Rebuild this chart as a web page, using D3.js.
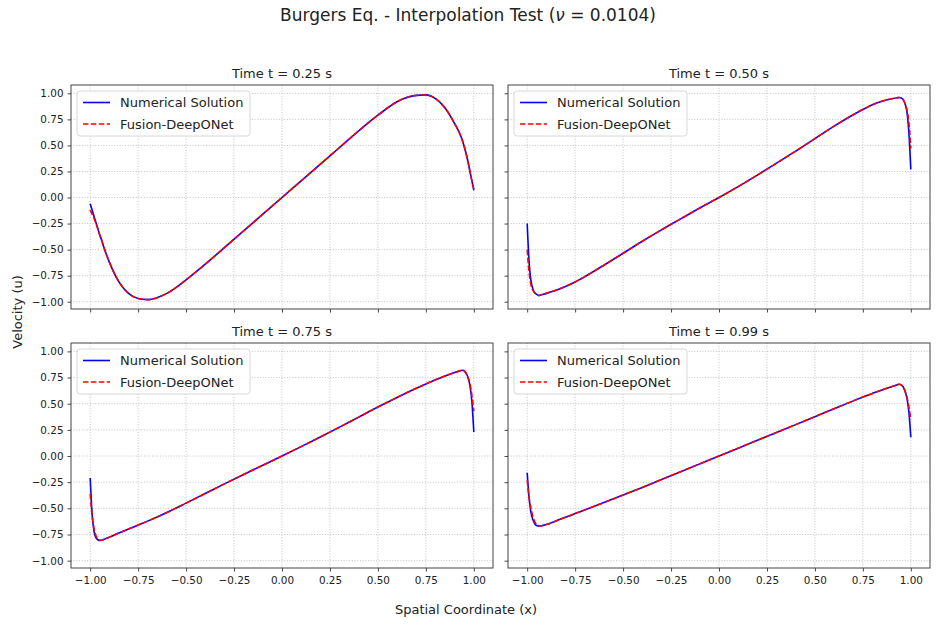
<!DOCTYPE html>
<meta charset="utf-8">
<style>
  body { margin: 0; background: #fff; }
  svg text { font-family: "DejaVu Sans", sans-serif; fill: #222; }
  .grid line { stroke: #b4b4b4; stroke-width: 0.8; stroke-dasharray: 1,1.7; }
  .axis path { display: none; }
  .axis line { stroke: #333; stroke-width: 0.9; }
  .frame { fill: none; stroke: #444; stroke-width: 1; }
</style>
<script src="https://d3js.org/d3.v7.min.js"></script>
<div id="my_dataviz"></div>
<script>

// sample positions along x (denser near the boundary layers)
var xs = [-1, -0.99, -0.98, -0.97, -0.96, -0.95, -0.94, -0.93, -0.9, -0.85, -0.8, -0.75, -0.7,
          -0.6, -0.5, -0.4, -0.3, -0.2, -0.1, 0, 0.1, 0.2, 0.3, 0.4, 0.5, 0.6, 0.7,
          0.75, 0.8, 0.85, 0.9, 0.93, 0.94, 0.95, 0.96, 0.97, 0.98, 0.99, 1];

var times = ["0.25", "0.50", "0.75", "0.99"];

// t = 0.25
var num025 = [-0.06, -0.12, -0.18, -0.24, -0.30, -0.36, -0.41, -0.47, -0.62, -0.81, -0.92, -0.97, -0.98,
              -0.92, -0.79, -0.64, -0.48, -0.32, -0.16, 0, 0.16, 0.32, 0.48, 0.64, 0.79, 0.92, 0.98,
              0.985, 0.95, 0.86, 0.71, 0.60, 0.55, 0.49, 0.42, 0.34, 0.25, 0.16, 0.07];
var fus025 = [-0.12, -0.16, -0.20, -0.25, -0.30, -0.36, -0.41, -0.47, -0.62, -0.81, -0.92, -0.97, -0.98,
              -0.92, -0.79, -0.64, -0.48, -0.32, -0.16, 0, 0.16, 0.32, 0.48, 0.64, 0.79, 0.92, 0.98,
              0.985, 0.95, 0.86, 0.71, 0.60, 0.55, 0.49, 0.42, 0.34, 0.25, 0.16, 0.08];

// t = 0.50
var num050 = [-0.25, -0.62, -0.80, -0.88, -0.915, -0.93, -0.94, -0.935, -0.92, -0.89, -0.853, -0.81, -0.76,
              -0.65, -0.535, -0.42, -0.31, -0.205, -0.10, 0, 0.105, 0.215, 0.33, 0.445, 0.565, 0.685, 0.795,
              0.845, 0.89, 0.925, 0.948, 0.958, 0.96, 0.955, 0.94, 0.90, 0.82, 0.62, 0.27];
var fus050 = [-0.50, -0.72, -0.84, -0.89, -0.915, -0.93, -0.94, -0.935, -0.92, -0.89, -0.853, -0.81, -0.76,
              -0.65, -0.535, -0.42, -0.31, -0.205, -0.10, 0, 0.105, 0.215, 0.33, 0.445, 0.565, 0.685, 0.795,
              0.845, 0.89, 0.925, 0.948, 0.958, 0.96, 0.955, 0.94, 0.90, 0.84, 0.72, 0.47];

// t = 0.75
var num075 = [-0.21, -0.55, -0.72, -0.78, -0.80, -0.807, -0.805, -0.798, -0.775, -0.735, -0.698, -0.66, -0.622,
              -0.54, -0.45, -0.358, -0.266, -0.176, -0.088, 0, 0.09, 0.182, 0.276, 0.372, 0.468, 0.56, 0.647,
              0.688, 0.728, 0.765, 0.797, 0.815, 0.82, 0.815, 0.79, 0.75, 0.67, 0.52, 0.23];
var fus075 = [-0.36, -0.57, -0.69, -0.76, -0.79, -0.803, -0.805, -0.798, -0.775, -0.735, -0.698, -0.66, -0.622,
              -0.54, -0.45, -0.358, -0.266, -0.176, -0.088, 0, 0.09, 0.182, 0.276, 0.372, 0.468, 0.56, 0.647,
              0.688, 0.728, 0.765, 0.797, 0.815, 0.82, 0.815, 0.79, 0.75, 0.69, 0.58, 0.43];

// t = 0.99
var num099 = [-0.16, -0.40, -0.54, -0.61, -0.65, -0.665, -0.67, -0.668, -0.655, -0.62, -0.585, -0.55, -0.515,
              -0.445, -0.373, -0.30, -0.225, -0.15, -0.075, 0, 0.075, 0.15, 0.225, 0.30, 0.376, 0.452, 0.527,
              0.563, 0.598, 0.632, 0.663, 0.68, 0.686, 0.68, 0.66, 0.62, 0.55, 0.42, 0.18];
var fus099 = [-0.23, -0.40, -0.50, -0.58, -0.63, -0.655, -0.665, -0.668, -0.655, -0.62, -0.585, -0.55, -0.515,
              -0.445, -0.373, -0.30, -0.225, -0.15, -0.075, 0, 0.075, 0.15, 0.225, 0.30, 0.376, 0.452, 0.527,
              0.563, 0.598, 0.632, 0.663, 0.68, 0.686, 0.68, 0.66, 0.62, 0.56, 0.47, 0.35];

var xTicks = [-1, -0.75, -0.5, -0.25, 0, 0.25, 0.5, 0.75, 1];
var yTicks = [-1, -0.75, -0.5, -0.25, 0, 0.25, 0.5, 0.75, 1];
var seriesNames = ["Numerical Solution", "Fusion-DeepONet"];

var numSets = [num025, num050, num075, num099];
var fusSets = [fus025, fus050, fus075, fus099];

// figure geometry
var W = 937, H = 625;
var cols = [71, 508], colW = 422;
var rows = [85, 343], rowH = [224, 225];

var svg = d3.select("#my_dataviz")
  .append("svg")
    .attr("width", W)
    .attr("height", H);

var fmt = d3.format(".2f");

function drawPanel(i) {
  var col = i % 2, row = Math.floor(i / 2);
  var w = colW, h = rowH[row];
  var g = svg.append("g")
      .attr("transform", "translate(" + cols[col] + "," + rows[row] + ")");

  var x = d3.scaleLinear().domain([-1.1, 1.1]).range([0, w]);
  var y = d3.scaleLinear().domain([-1.07, 1.08]).range([h, 0]);

  // grid
  var grid = g.append("g").attr("class", "grid");
  grid.selectAll(".gx").data(xTicks).enter().append("line")
      .attr("x1", function(d) { return x(d); }).attr("x2", function(d) { return x(d); })
      .attr("y1", 0).attr("y2", h);
  grid.selectAll(".gy").data(yTicks).enter().append("line")
      .attr("y1", function(d) { return y(d); }).attr("y2", function(d) { return y(d); })
      .attr("x1", 0).attr("x2", w);

  // axes
  var ax = g.append("g")
      .attr("class", "axis")
      .attr("transform", "translate(0," + h + ")")
      .call(d3.axisBottom(x).tickValues(xTicks).tickSize(3.5).tickPadding(5)
        .tickFormat(row == 1 ? fmt : function() { return ""; }));
  var ay = g.append("g")
      .attr("class", "axis")
      .call(d3.axisLeft(y).tickValues(yTicks).tickSize(3.5).tickPadding(4)
        .tickFormat(col == 0 ? fmt : function() { return ""; }));
  [ax, ay].forEach(function(a) {
    a.attr("font-family", null).attr("font-size", null);
    a.selectAll("text").style("font-size", "10.4px");
  });

  // curves
  var line = d3.line()
      .x(function(d, k) { return x(xs[k]); })
      .y(function(d) { return y(d); })
      .curve(d3.curveMonotoneX);

  g.append("path")
      .datum(numSets[i])
      .attr("fill", "none")
      .attr("stroke", "#0000ff")
      .attr("stroke-width", 1.6)
      .attr("d", line);
  g.append("path")
      .datum(fusSets[i])
      .attr("fill", "none")
      .attr("stroke", "#ff0000")
      .attr("stroke-width", 1.6)
      .attr("stroke-dasharray", "5.5,2.4")
      .attr("d", line);

  g.append("rect").attr("class", "frame")
      .attr("width", w).attr("height", h);

  // panel title
  g.append("text")
      .attr("x", w / 2)
      .attr("y", -7)
      .attr("text-anchor", "middle")
      .style("font-size", "13px")
      .text("Time t = " + times[i] + " s");

  // legend
  var lg = g.append("g").attr("transform", "translate(6,6)");
  lg.append("rect")
      .attr("width", 173).attr("height", 45)
      .attr("rx", 3)
      .attr("fill", "#fff").attr("fill-opacity", 0.85)
      .attr("stroke", "#d4d4d4").attr("stroke-width", 0.9);
  seriesNames.forEach(function(name, k) {
    var yy = 11.5 + k * 21.5;
    lg.append("line")
        .attr("x1", 6).attr("x2", 33)
        .attr("y1", yy).attr("y2", yy)
        .attr("stroke", k == 0 ? "#0000ff" : "#ff0000")
        .attr("stroke-width", 1.6)
        .attr("stroke-dasharray", k == 0 ? null : "5.5,2.4");
    lg.append("text")
        .attr("x", 43)
        .attr("y", yy)
        .attr("dy", "0.36em")
        .style("font-size", "13px")
        .text(name);
  });
}

for (var i = 0; i < 4; i++) drawPanel(i);

// figure title and shared labels
var sup = svg.append("text")
    .attr("x", 468)
    .attr("y", 21)
    .attr("text-anchor", "middle")
    .style("font-size", "17px");
sup.append("tspan").text("Burgers Eq. - Interpolation Test (");
sup.append("tspan").style("font-style", "italic").text("ν");
sup.append("tspan").text(" = 0.0104)");

svg.append("text")
    .attr("x", 466)
    .attr("y", 614)
    .attr("text-anchor", "middle")
    .style("font-size", "13px")
    .text("Spatial Coordinate (x)");

svg.append("text")
    .attr("transform", "translate(22,312) rotate(-90)")
    .attr("text-anchor", "middle")
    .style("font-size", "13px")
    .text("Velocity (u)");

</script>
